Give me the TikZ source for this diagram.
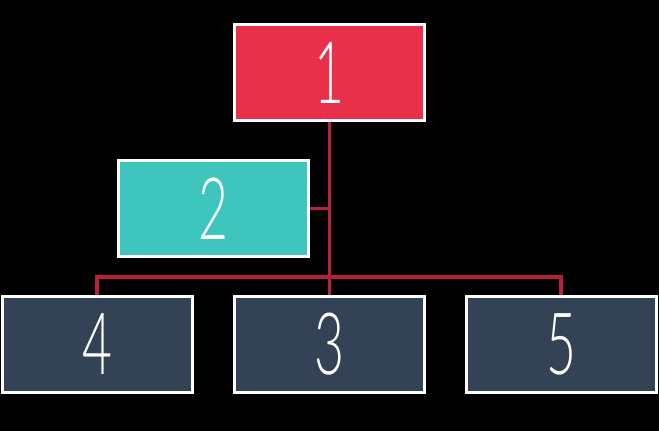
\documentclass[tikz,border=0pt]{standalone}
\usepackage{fontspec}
\newfontfamily\numfont[FakeStretch=0.6]{Lato Light}
\definecolor{redbox}{HTML}{E8304A}
\definecolor{tealbox}{HTML}{3EC6BE}
\definecolor{darkbox}{HTML}{334355}
\definecolor{linkred}{HTML}{B52338}
\begin{document}
\begin{tikzpicture}[x=1pt,y=-1pt,
  box/.style={draw=white,line width=3pt,minimum width=190pt,minimum height=96pt,inner sep=0pt,
    text=white,font=\numfont\fontsize{86}{86}\selectfont},
  link/.style={draw=linkred,line width=3.5pt}]
\fill[black] (0,0) rectangle (659,431);
\useasboundingbox (0,0) rectangle (659,431);
\node[box,fill=redbox] (n1) at (329.5,72.5) {1};
\node[box,fill=tealbox] (n2) at (213.5,208.5) {2};
\node[box,fill=darkbox] (n4) at (97,344) {4};
\node[box,fill=darkbox] (n3) at (329.5,344) {3};
\node[box,fill=darkbox] (n5) at (561,344) {5};
\coordinate (hub) at (n1.south |- 0,277);
\coordinate (j2) at (n1.south |- n2.east);
\draw[link] (n1.south) -- (n3.north);
\draw[link] (n2.east) -- (j2);
\draw[link] (n4.north) -- (n4.north |- hub) -- (n5.north |- hub) -- (n5.north);
\end{tikzpicture}
\end{document}
